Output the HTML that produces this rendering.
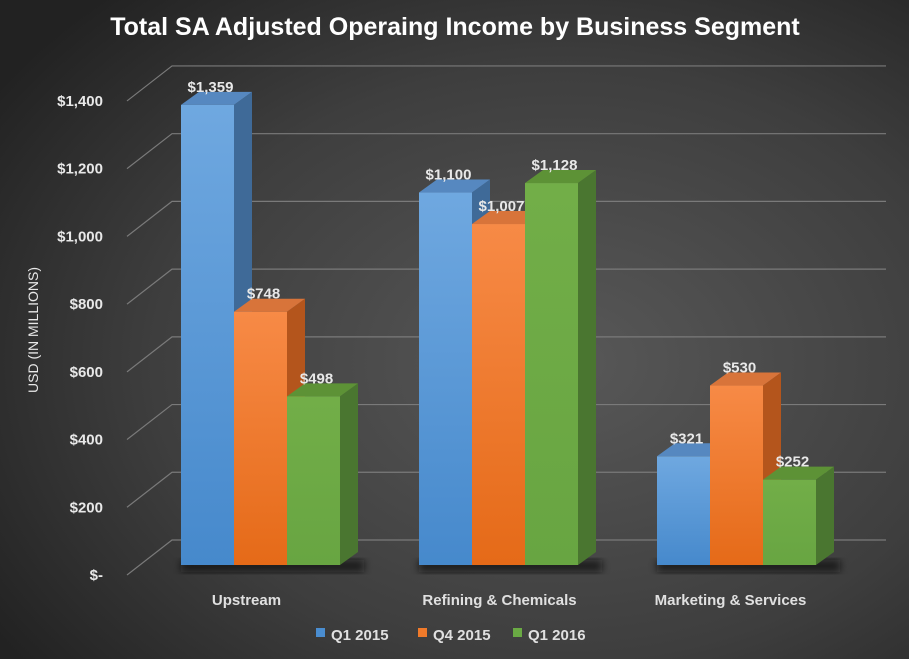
<!DOCTYPE html>
<html><head><meta charset="utf-8"><style>
html,body{margin:0;padding:0;width:909px;height:659px;overflow:hidden;background:#333}
svg{display:block}
text{font-family:"Liberation Sans",sans-serif}
</style></head><body>
<svg id="chart" width="909" height="659" viewBox="0 0 909 659">
<defs>
<radialGradient id="bg" cx="0.62" cy="0.55" r="0.75">
<stop offset="0" stop-color="#585858"/><stop offset="0.6" stop-color="#3e3e3e"/><stop offset="1" stop-color="#222"/>
</radialGradient>
<linearGradient id="g0" x1="0" y1="0" x2="0" y2="1"><stop offset="0" stop-color="#6fa8e0"/><stop offset="1" stop-color="#4689cc"/></linearGradient>
<linearGradient id="g1" x1="0" y1="0" x2="0" y2="1"><stop offset="0" stop-color="#f78a46"/><stop offset="1" stop-color="#e56a18"/></linearGradient>
<linearGradient id="g2" x1="0" y1="0" x2="0" y2="1"><stop offset="0" stop-color="#72ae48"/><stop offset="1" stop-color="#68a542"/></linearGradient>
<filter id="sh" x="-20%" y="-20%" width="140%" height="140%"><feGaussianBlur stdDeviation="4"/></filter>
</defs>
<rect width="909" height="659" fill="url(#bg)"/>
<text x="455" y="35" text-anchor="middle" font-size="25" font-weight="bold" fill="#fff">Total SA Adjusted Operaing Income by Business Segment</text>
<text transform="translate(38,330) rotate(-90)" text-anchor="middle" font-size="14" fill="#e8e8e8">USD (IN MILLIONS)</text>
<g id="grid"></g><g id="bars"></g><g id="labels"></g>
<g>
<rect x="316" y="628" width="9" height="9" fill="#4a8dd0"/>
<text x="331" y="640" font-size="15" font-weight="bold" fill="#e0e0e0">Q1 2015</text>
<rect x="418" y="628" width="9" height="9" fill="#f07a2a"/>
<text x="433" y="640" font-size="15" font-weight="bold" fill="#e0e0e0">Q4 2015</text>
<rect x="513" y="628" width="9" height="9" fill="#6aaa44"/>
<text x="528" y="640" font-size="15" font-weight="bold" fill="#e0e0e0">Q1 2016</text>
</g>
</svg>
<script>
const categories = ["Upstream", "Refining & Chemicals", "Marketing & Services"];
const seriesNames = ["Q1 2015", "Q4 2015", "Q1 2016"];
const q1_2015 = [1359, 1100, 321];
const q4_2015 = [748, 1007, 530];
const q1_2016 = [498, 1128, 252];
const tickValues = [0, 200, 400, 600, 800, 1000, 1200, 1400];
const tickLabels = ["$-", "$200", "$400", "$600", "$800", "$1,000", "$1,200", "$1,400"];

const NS = "http://www.w3.org/2000/svg";
const K = 0.3386;
function yFront(v){ return 565 - v * K; }
function yBack(v){ return 540 - v * K; }
function xGroup(i){ return 181 + i * 238; }
const BW = 53, DX = 18, DY = -13;
function mk(tag, attrs, parent){ const e = document.createElementNS(NS, tag); for (const k in attrs) e.setAttribute(k, attrs[k]); parent.appendChild(e); return e; }
const grid = document.getElementById("grid"), bars = document.getElementById("bars"), labels = document.getElementById("labels");
tickValues.forEach((v, i) => {
  const yb = yBack(v);
  const p = mk("polyline", {points: `127,${yb+35} 172,${yb} 886,${yb}`, fill: "none", stroke: "#7a7a7a", "stroke-width": 1.2}, grid);
  
  
  const t = mk("text", {x: 103, y: yb + 35 + 5, "text-anchor": "end", "font-size": 15, "font-weight": "bold", fill: "#e8e8e8"}, labels);
  t.textContent = tickLabels[i];
  
  
});
const series = [q1_2015, q4_2015, q1_2016];
const tops = ["#5688c0", "#d8743a", "#5d9236"], sides = ["#3f6a98", "#b4551c", "#4a7630"];
categories.forEach((c, i) => {
  const gx = xGroup(i);
  const s = mk("rect", {x: gx, y: 560, width: BW*3 + DX + 6, height: 12, fill: "#111", opacity: 0.7, filter: "url(#sh)"}, bars);
  
  
  series.forEach((arr, j) => {
    const v = arr[i], x = gx + j * BW, yt = yFront(v), yb = yFront(0);
    const g = mk("g", {}, bars);
    
    
    mk("polygon", {points: `${x+BW},${yt} ${x+BW+DX},${yt+DY} ${x+BW+DX},${yb+DY} ${x+BW},${yb}`, fill: sides[j]}, g);
    mk("polygon", {points: `${x},${yt} ${x+DX},${yt+DY} ${x+BW+DX},${yt+DY} ${x+BW},${yt}`, fill: tops[j]}, g);
    mk("rect", {x: x, y: yt, width: BW, height: yb - yt, fill: "url(#g" + j + ")"}, g);
    const t = mk("text", {x: x + BW/2 + 3, y: yt - 13, "text-anchor": "middle", "font-size": 15, "font-weight": "bold", fill: "#e8e8e8"}, labels);
    t.textContent = "$" + v.toLocaleString("en-US");
    
    
  });
  const ct = mk("text", {x: gx + BW*1.5 - 14 + (i===1?15:0) + (i===2?8:0), y: 605, "text-anchor": "middle", "font-size": 15, "font-weight": "bold", fill: "#e0e0e0"}, labels);
  ct.textContent = c;
  
  
});
</script>
</body></html>
